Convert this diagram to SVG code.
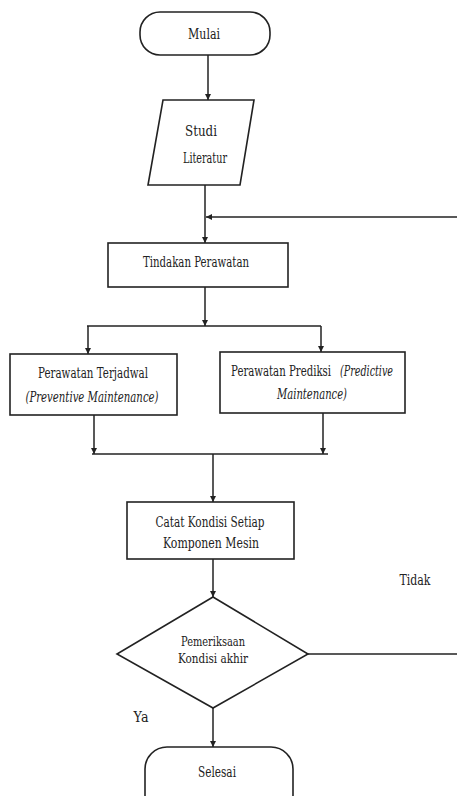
<svg xmlns="http://www.w3.org/2000/svg" width="457" height="796" viewBox="0 0 457 796">
<style>
.s{fill:#fff;stroke:#222;stroke-width:1.6}
.t{font-size:14px;fill:#222;text-anchor:middle}
.l{text-anchor:start}
.d{font-size:13px}
.i{font-style:italic}
.c{fill:none;stroke:#222;stroke-width:1.5}
</style>
<defs>
<marker id="a" viewBox="0 0 10 10" refX="10" refY="5" markerWidth="6" markerHeight="6" orient="auto" markerUnits="userSpaceOnUse">
<path d="M0,0 L10,5 L0,10 z" fill="#222"/>
</marker>
</defs>
<rect width="457" height="796" fill="#fff"/>
<g font-family="DejaVu Serif, serif">
<g id="connectors">
<line class="c" x1="208" y1="55" x2="208" y2="100" marker-end="url(#a)"/>
<line class="c" x1="205" y1="185" x2="205" y2="243" marker-end="url(#a)"/>
<line class="c" x1="457" y1="217" x2="206" y2="217" marker-end="url(#a)"/>
<line class="c" x1="205" y1="287" x2="205" y2="326" marker-end="url(#a)"/>
<line class="c" x1="87" y1="326" x2="321" y2="326"/>
<line class="c" x1="88" y1="326" x2="88" y2="354" marker-end="url(#a)"/>
<line class="c" x1="321" y1="326" x2="321" y2="352" marker-end="url(#a)"/>
<line class="c" x1="94" y1="415" x2="94" y2="454" marker-end="url(#a)"/>
<line class="c" x1="323" y1="413" x2="323" y2="454" marker-end="url(#a)"/>
<line class="c" x1="92" y1="454" x2="328" y2="454"/>
<line class="c" x1="213" y1="454" x2="213" y2="502" marker-end="url(#a)"/>
<line class="c" x1="213" y1="559" x2="213" y2="597" marker-end="url(#a)"/>
<line class="c" x1="308" y1="654" x2="457" y2="654"/>
<line class="c" x1="213" y1="708" x2="213" y2="747" marker-end="url(#a)"/>
<text class="t" x="415" y="585" textLength="31" lengthAdjust="spacingAndGlyphs">Tidak</text>
<text class="t" x="141" y="722" textLength="15" lengthAdjust="spacingAndGlyphs">Ya</text>
</g>
<g id="mulai">
<rect class="s" x="140" y="12" width="130" height="43" rx="20"/>
<text class="t" x="204" y="39" textLength="32" lengthAdjust="spacingAndGlyphs">Mulai</text>
</g>
<g id="studi">
<polygon class="s" points="163,100 254,100 240,185 148,185"/>
<text class="t" x="201" y="136" textLength="32" lengthAdjust="spacingAndGlyphs">Studi</text>
<text class="t" x="205" y="163" textLength="44" lengthAdjust="spacingAndGlyphs">Literatur</text>
</g>
<g id="tindakan">
<rect class="s" x="108" y="243" width="180" height="44"/>
<text class="t" x="196" y="267" textLength="106" lengthAdjust="spacingAndGlyphs">Tindakan Perawatan</text>
</g>
<g id="terjadwal">
<rect class="s" x="10" y="354" width="167" height="61"/>
<text class="t" x="93" y="378" textLength="110" lengthAdjust="spacingAndGlyphs">Perawatan  Terjadwal</text>
<text class="t i" x="92" y="402" textLength="133" lengthAdjust="spacingAndGlyphs">(Preventive  Maintenance)</text>
</g>
<g id="prediksi">
<rect class="s" x="220" y="352" width="185" height="61"/>
<text class="t l" x="231" y="376" textLength="100" lengthAdjust="spacingAndGlyphs">Perawatan Prediksi</text>
<text class="t l i" x="340" y="376" textLength="53" lengthAdjust="spacingAndGlyphs">(Predictive</text>
<text class="t i" x="312" y="399" textLength="70" lengthAdjust="spacingAndGlyphs">Maintenance)</text>
</g>
<g id="catat">
<rect class="s" x="127" y="502" width="167" height="57"/>
<text class="t" x="210" y="527" textLength="109" lengthAdjust="spacingAndGlyphs">Catat Kondisi Setiap</text>
<text class="t" x="211" y="548" textLength="96" lengthAdjust="spacingAndGlyphs">Komponen Mesin</text>
</g>
<g id="pemeriksaan">
<polygon class="s" points="213,597 308,654 213,708 117,654"/>
<text class="t d" x="213" y="646" textLength="64" lengthAdjust="spacingAndGlyphs">Pemeriksaan</text>
<text class="t d" x="213" y="663" textLength="70" lengthAdjust="spacingAndGlyphs">Kondisi akhir</text>
</g>
<g id="selesai">
<rect class="s" x="145" y="747" width="148" height="70" rx="22"/>
<text class="t" x="217" y="777" textLength="38" lengthAdjust="spacingAndGlyphs">Selesai</text>
</g>
</g>
</svg>
